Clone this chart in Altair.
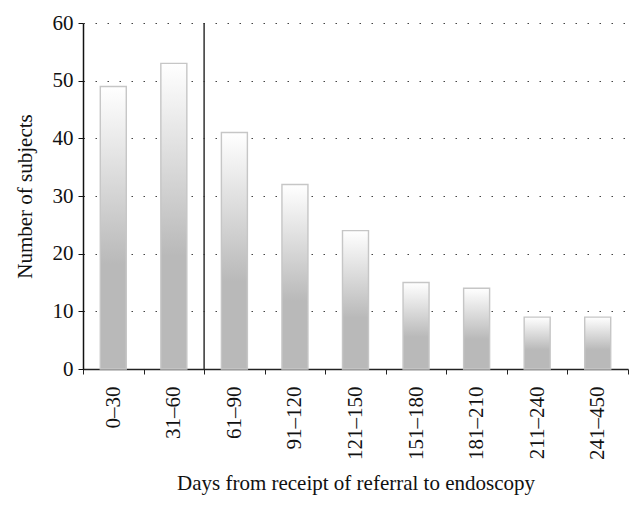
import altair as alt
import pandas as pd

categories = ["0–30", "31–60", "61–90", "91–120", "121–150", "151–180", "181–210", "211–240", "241–450"]
counts = [49, 53, 41, 32, 24, 15, 14, 9, 9]
separator_after = ["31–60"]

df = pd.DataFrame({"cat": categories, "n": counts})
sep = pd.DataFrame({"cat": separator_after})

FONT = "Liberation Serif"
FS = 21

grad = alt.Gradient(
    gradient="linear",
    stops=[
        alt.GradientStop(color="#ffffff", offset=0),
        alt.GradientStop(color="#b9b9b9", offset=0.63),
        alt.GradientStop(color="#b9b9b9", offset=1),
    ],
    x1=0, x2=0, y1=0, y2=1,
)

xenc = alt.X(
    "cat:N",
    sort=categories,
    title="Days from receipt of referral to endoscopy",
    scale=alt.Scale(paddingInner=0, paddingOuter=0),
    axis=alt.Axis(
        labelAngle=-90, labelFont=FONT, labelFontSize=FS, labelColor="#111",
        labelPadding=12, tickBand="extent", tickSize=5, tickColor="#222",
        domainColor="#222", domainWidth=1.5, titleFont=FONT, titleFontSize=FS,
        titleFontWeight="normal", titleColor="#111", titlePadding=13, grid=False,
    ),
)

bars = alt.Chart(df).mark_bar(size=26, fill=grad, stroke="#c6c6c6", strokeWidth=1.4).encode(
    x=xenc,
    y=alt.Y(
        "n:Q",
        title="Number of subjects",
        scale=alt.Scale(domain=[0, 60], nice=False),
        axis=alt.Axis(
            values=[0, 10, 20, 30, 40, 50, 60], labelFont=FONT, labelFontSize=FS,
            labelColor="#111", tickSize=5, tickColor="#111", domainColor="#111",
            domainWidth=1.5, labelPadding=5, titleFont=FONT, titleFontSize=FS,
            titleFontWeight="normal", titleColor="#111", titlePadding=17,
            grid=True, gridDash=[1.5, 10.5], gridColor="#444", gridWidth=1.2,
        ),
    ),
)

rule = alt.Chart(sep).mark_rule(color="#333", strokeWidth=1.5).encode(
    x=alt.X("cat:N", sort=categories, bandPosition=1)
)

chart = (bars + rule).properties(
    width=545, height=346,
    autosize=alt.AutoSizeParams(type="none"),
    padding={"left": 75, "top": 15, "right": 6, "bottom": 130},
).configure_view(stroke=None)

chart.save("out.html", embed_options={"renderer": "svg", "actions": False})
